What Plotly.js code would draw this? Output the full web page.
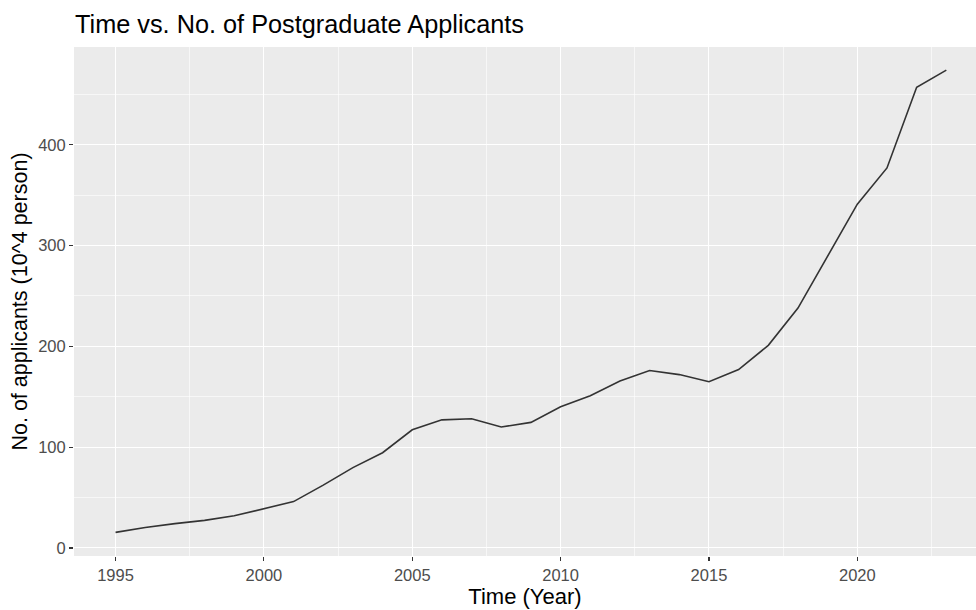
<!DOCTYPE html>
<html>
<head>
<meta charset="utf-8">
<script src="https://cdn.plot.ly/plotly-3.0.1.min.js"></script>
<style>html,body{margin:0;padding:0;background:#fff;}#chart{width:976px;height:610px;}</style>
</head>
<body>
<div id="chart"></div>
<script>
const years = [1995,1996,1997,1998,1999,2000,2001,2002,2003,2004,2005,2006,2007,2008,2009,2010,2011,2012,2013,2014,2015,2016,2017,2018,2019,2020,2021,2022,2023];
const applicants = [15.5,20.4,24.2,27.4,31.9,39.2,46,62.4,79.7,94.5,117.2,127.1,128.2,120,124.6,140,151.1,165.6,176,172,164.9,177,201,238,290,341,377,457,474];
const xTicks = [1995,2000,2005,2010,2015,2020];
const yTicks = [0,100,200,300,400];

const font = "Liberation Sans, Arial, sans-serif";
const trace = {
  x: years, y: applicants, type: 'scatter', mode: 'lines',
  line: {color: '#333333', width: 1.6}, hoverinfo: 'x+y'
};
const layout = {
  width: 976, height: 610,
  margin: {l: 74, r: 0, t: 47, b: 54},
  paper_bgcolor: '#ffffff', plot_bgcolor: '#EBEBEB',
  showlegend: false,
  title: {text: 'Time vs. No. of Postgraduate Applicants', x: 75/976, xanchor: 'left', y: 1 - 24/610, yanchor: 'middle',
    font: {family: font, size: 25.3, color: '#000000'}},
  xaxis: {
    range: [1993.6, 2024.0], tickmode: 'array', tickvals: xTicks, ticktext: xTicks.map(String),
    showgrid: true, gridcolor: '#FFFFFF', gridwidth: 1, zeroline: false, showline: false,
    ticks: 'outside', ticklen: 4, tickwidth: 1.1, tickcolor: '#333333',
    tickfont: {family: font, size: 16.5, color: '#4D4D4D'},
    minor: {tickmode: 'array', tickvals: [1997.5,2002.5,2007.5,2012.5,2017.5,2022.5], showgrid: true, gridcolor: '#FFFFFF', gridwidth: 0.6, ticks: ''},
    title: {text: 'Time (Year)', font: {family: font, size: 22, color: '#000000'}, standoff: 4}
  },
  yaxis: {
    range: [-7.95, 496.95], tickmode: 'array', tickvals: yTicks, ticktext: yTicks.map(String),
    showgrid: true, gridcolor: '#FFFFFF', gridwidth: 1, zeroline: false, showline: false,
    ticks: 'outside', ticklen: 4, tickwidth: 1.1, tickcolor: '#333333',
    tickfont: {family: font, size: 16.5, color: '#4D4D4D'},
    minor: {tickmode: 'array', tickvals: [50,150,250,350,450], showgrid: true, gridcolor: '#FFFFFF', gridwidth: 0.6, ticks: ''},
    title: {text: 'No. of applicants (10^4 person)', font: {family: font, size: 21.5, color: '#000000'}, standoff: 4}
  }
};
Plotly.newPlot('chart', [trace], layout, {displayModeBar: false, staticPlot: true});
</script>
</body>
</html>
